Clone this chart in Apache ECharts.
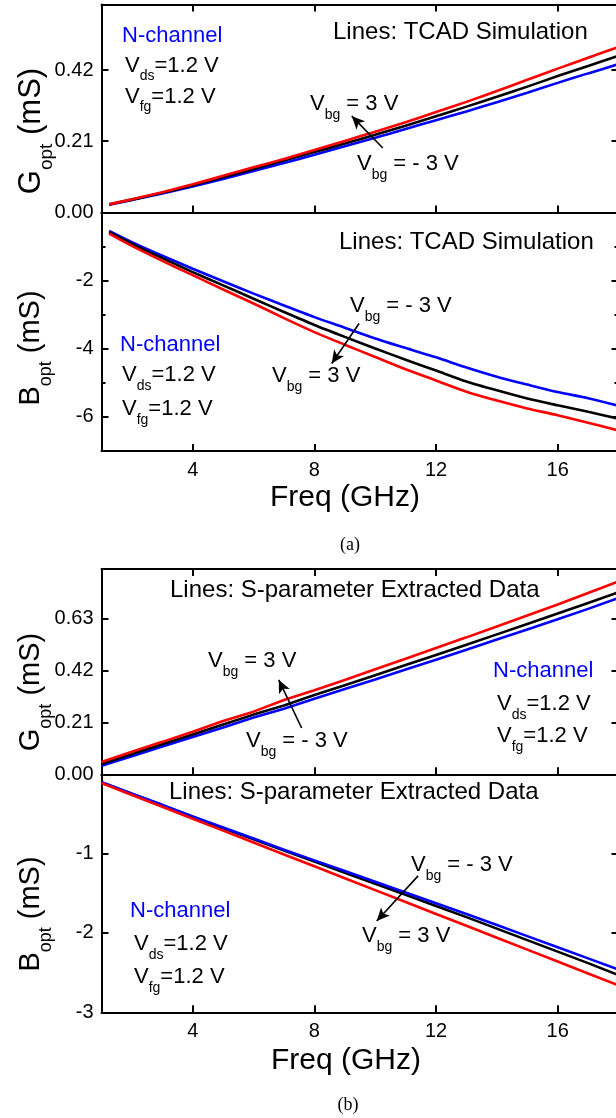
<!DOCTYPE html>
<html><head><meta charset="utf-8">
<script src="https://cdn.jsdelivr.net/npm/echarts@6/dist/echarts.min.js"></script>
<style>html,body{margin:0;padding:0;background:#fff;}#c{width:616px;height:1118px;}</style>
</head><body><div id="c"></div>
<script>
// ---------- data ----------
const freqA = [1.25,2,3,4,5,6,7,8,9,10,11,12,13,14,15,16,17,18];
const gA_m3 = [0.023,0.037,0.056,0.077,0.099,0.122,0.146,0.170,0.195,0.220,0.246,0.272,0.298,0.325,0.353,0.382,0.410,0.437];
const gA_0  = [0.024,0.038,0.058,0.080,0.104,0.128,0.153,0.178,0.203,0.229,0.256,0.284,0.312,0.341,0.371,0.402,0.432,0.462];
const gA_p3 = [0.024,0.039,0.060,0.083,0.108,0.133,0.158,0.184,0.211,0.238,0.266,0.296,0.326,0.358,0.391,0.424,0.456,0.488];
const bA_m3 = [-0.54,-0.87,-1.27,-1.65,-2.02,-2.38,-2.73,-3.07,-3.38,-3.70,-3.98,-4.25,-4.55,-4.82,-5.05,-5.27,-5.45,-5.67];
const bA_0  = [-0.58,-0.92,-1.34,-1.75,-2.14,-2.53,-2.92,-3.30,-3.65,-3.99,-4.32,-4.64,-4.96,-5.22,-5.46,-5.66,-5.85,-6.05];
const bA_p3 = [-0.62,-0.98,-1.42,-1.84,-2.26,-2.67,-3.10,-3.51,-3.88,-4.24,-4.60,-4.93,-5.26,-5.52,-5.75,-5.95,-6.17,-6.40];

const freqB = [1,2,3,4,5,6,7,8,9,10,11,12,13,14,15,16,17,18];
const gB_m3 = [0.034,0.073,0.112,0.151,0.189,0.229,0.265,0.305,0.344,0.383,0.423,0.463,0.503,0.544,0.585,0.626,0.668,0.712];
const gB_0  = [0.042,0.082,0.121,0.161,0.201,0.241,0.278,0.320,0.360,0.400,0.441,0.482,0.523,0.565,0.607,0.649,0.692,0.735];
const gB_p3 = [0.050,0.091,0.131,0.172,0.215,0.253,0.300,0.339,0.381,0.424,0.467,0.510,0.553,0.597,0.641,0.686,0.732,0.779];
const bB_m3 = [-0.10,-0.245,-0.385,-0.53,-0.67,-0.81,-0.95,-1.085,-1.22,-1.355,-1.49,-1.625,-1.76,-1.90,-2.04,-2.18,-2.32,-2.46];
const bB_0  = [-0.10,-0.245,-0.39,-0.535,-0.68,-0.82,-0.96,-1.10,-1.24,-1.38,-1.52,-1.66,-1.80,-1.945,-2.09,-2.235,-2.38,-2.53];
const bB_p3 = [-0.11,-0.26,-0.41,-0.56,-0.71,-0.86,-1.01,-1.16,-1.31,-1.46,-1.61,-1.76,-1.91,-2.06,-2.21,-2.36,-2.51,-2.66];

// tick values
const xTicks   = [4,8,12,16];
const gTicksA  = [0,0.21,0.42];
const bTicksA  = [-6,-4,-2];
const bMinorA  = [-5,-3,-1];
const gTicksB  = [0,0.21,0.42,0.63];
const bTicksB  = [-3,-2,-1];

// arrows (data coordinates: [from, to])
const arrowGA = [[10.25,0.190],[9.23,0.284]];
const arrowBA = [[9.47,-3.26],[8.57,-4.43]];
const arrowGB = [[7.58,0.187],[6.83,0.381]];
const arrowBB = [[11.41,-1.28],[10.05,-1.85]];

// ---------- layout ----------
const FF = 'Liberation Sans, Arial, Helvetica, sans-serif';
const BLUE = '#0000ff', RED = '#ff0000', BLACK = '#000000';
const L = 101.5, W = 517;
const grids = [
  {top:4.5,   height:208,   ymin:0,  ymax:0.613, ticks:gTicksA, minor:null,    fmt:v=>v.toFixed(2), xlab:false, topTicks:true},
  {top:212.5, height:238.5, ymin:-7, ymax:0,     ticks:bTicksA, minor:bMinorA, fmt:v=>String(v),    xlab:true,  topTicks:false},
  {top:569,   height:205.3, ymin:0,  ymax:0.829, ticks:gTicksB, minor:null,    fmt:v=>v.toFixed(2), xlab:false, topTicks:true},
  {top:774.3, height:238,   ymin:-3, ymax:0,     ticks:bTicksB, minor:null,    fmt:v=>String(v),    xlab:true,  topTicks:false}
];
const lineSt = {color:'#000', width:2};
const gridOpt = [], xAxes = [], yAxes = [], axisIdx = [];
grids.forEach((g,i)=>{
  gridOpt.push({left:L, top:g.top, width:W, height:g.height, containLabel:false, outerBoundsMode:'none', show:false});
  const xb = xAxes.length;
  xAxes.push({gridIndex:i, type:'value', min:1, max:18, position:'bottom',
    axisLine:{show:true, onZero:false, lineStyle:lineSt},
    axisTick:{show:true, inside:true, length:7, lineStyle:lineSt, customValues:xTicks},
    axisLabel:{show:g.xlab, customValues:xTicks, margin:9, fontSize:20, color:'#000', fontFamily:FF},
    splitLine:{show:false}});
  xAxes.push({gridIndex:i, type:'value', min:1, max:18, position:'top',
    axisLine:{show:true, onZero:false, lineStyle:lineSt},
    axisTick:{show:g.topTicks, inside:true, length:7, lineStyle:lineSt, customValues:xTicks},
    axisLabel:{show:false}, splitLine:{show:false}});
  const yl = yAxes.length;
  yAxes.push({gridIndex:i, type:'value', min:g.ymin, max:g.ymax, position:'left',
    axisLine:{show:true, onZero:false, lineStyle:lineSt},
    axisTick:{show:true, inside:true, length:7, lineStyle:lineSt, customValues:g.ticks},
    axisLabel:{show:true, customValues:g.ticks, formatter:g.fmt, margin:8, fontSize:20, color:'#000', fontFamily:FF},
    splitLine:{show:false}});
  yAxes.push({gridIndex:i, type:'value', min:g.ymin, max:g.ymax, position:'right',
    axisLine:{show:true, onZero:false, lineStyle:lineSt},
    axisTick:{show:true, inside:true, length:7, lineStyle:lineSt, customValues:g.ticks},
    axisLabel:{show:false}, splitLine:{show:false}});
  if (g.minor) {
    ['left','right'].forEach(p=>yAxes.push({gridIndex:i, type:'value', min:g.ymin, max:g.ymax, position:p, offset:0,
      axisLine:{show:false}, axisTick:{show:true, inside:true, length:4, lineStyle:lineSt, customValues:g.minor},
      axisLabel:{show:false}, splitLine:{show:false}}));
  }
  axisIdx.push({x:xb, y:yl});
});

function mk(xs, ys){ return xs.map((x,k)=>[x, ys[k]]); }
function ser(gi, xs, ys, color, smooth, arrow){
  const s = {type:'line', xAxisIndex:axisIdx[gi].x, yAxisIndex:axisIdx[gi].y, data:mk(xs,ys),
    showSymbol:false, symbol:'none', smooth:smooth, clip:true, silent:true,
    lineStyle:{color:color, width:2.6}, itemStyle:{color:color}, z:2};
  if (arrow) {
    s.markLine = {silent:true, symbol:['none','arrow'], symbolSize:[9,13], animation:false,
      lineStyle:{color:'#000', width:1.6, type:'solid'}, label:{show:false},
      data:[[{coord:arrow[0]},{coord:arrow[1]}]]};
  }
  return s;
}
const series = [
  ser(0,freqA,gA_m3,BLUE,0.25), ser(0,freqA,gA_0,BLACK,0.25,arrowGA), ser(0,freqA,gA_p3,RED,0.25),
  ser(1,freqA,bA_m3,BLUE,0.25), ser(1,freqA,bA_0,BLACK,0.25,arrowBA), ser(1,freqA,bA_p3,RED,0.25),
  ser(2,freqB,gB_m3,BLUE,0),   ser(2,freqB,gB_0,BLACK,0,arrowGB),   ser(2,freqB,gB_p3,RED,0),
  ser(3,freqB,bB_0,BLACK,0,arrowBB), ser(3,freqB,bB_m3,BLUE,0),   ser(3,freqB,bB_p3,RED,0)
];

// ---------- text annotations ----------
const rich = {
  m:{fontSize:22, fontFamily:FF, fill:'#000', lineHeight:24, verticalAlign:'top'},
  s:{fontSize:14, fontFamily:FF, fill:'#000', lineHeight:16, padding:[15,0,0,0], verticalAlign:'top'},
  b:{fontSize:22, fontFamily:FF, fill:BLUE, lineHeight:24, verticalAlign:'top'},
  t:{fontSize:24, fontFamily:FF, fill:'#000', lineHeight:24, verticalAlign:'top'}
};
function T(x, yc, text){
  return {type:'text', x:x, y:yc, silent:true, z:100,
    style:{text:text, rich:rich, x:0, y:-12, align:'left', verticalAlign:'top'}};
}
function titleRich(fs){
  return {
    M:{fontSize:fs, fontFamily:FF, fill:'#000', lineHeight:30, verticalAlign:'top'},
    S:{fontSize:Math.round(fs*0.62), fontFamily:FF, fill:'#000', lineHeight:18, padding:[21,0,0,0], verticalAlign:'top'}
  };
}
function YT(x, yc, text, fs){
  return {type:'text', x:x, y:yc, rotation:Math.PI/2, silent:true, z:100,
    style:{text:text, rich:titleRich(fs), x:0, y:-15, align:'center', verticalAlign:'top'}};
}
function XT(x, yc, text){
  return {type:'text', x:x, y:yc, silent:true, z:100,
    style:{text:text, fontSize:30, fontFamily:FF, fill:'#000', align:'center', verticalAlign:'middle'}};
}
function CAP(x, yc, text){
  return {type:'text', x:x, y:yc, silent:true, z:100,
    style:{text:text, fontSize:18, fontFamily:'Liberation Serif, Times New Roman, serif', fill:'#000', align:'center', verticalAlign:'middle'}};
}
const vds = '{m|V}{s|ds}{m|=1.2 V}', vfg = '{m|V}{s|fg}{m|=1.2 V}';
const vp3 = '{m|V}{s|bg}{m| = 3 V}', vm3 = '{m|V}{s|bg}{m| = - 3 V}';
const nch = '{b|N-channel}';
const graphic = [
  // panel (a) top
  T(122,37,nch), T(125,66.5,vds), T(125,97.5,vfg),
  T(333,32,'{t|Lines: TCAD Simulation}'), T(310,105,vp3), T(357,165,vm3),
  // panel (a) bottom
  T(339,242,'{t|Lines: TCAD Simulation}'), T(350,307,vm3), T(272,377,vp3),
  T(120,346,nch), T(122,376,vds), T(122,410,vfg),
  // panel (b) top
  T(170,590,'{t|Lines: S-parameter Extracted Data}'), T(208,662,vp3), T(246,742,vm3),
  T(493,672,nch), T(497,705,vds), T(497,737,vfg),
  // panel (b) bottom
  T(169,792,'{t|Lines: S-parameter Extracted Data}'), T(411,866,vm3), T(362,937,vp3),
  T(130,912,nch), T(134,945,vds), T(134,978,vfg),
  // axis titles
  YT(31,131,'{M|G}{S|opt}{M| (mS)}',31), YT(31,348,'{M|B}{S|opt}{M| (mS)}',29),
  YT(31,692,'{M|G}{S|opt}{M| (mS)}',29), YT(31,914,'{M|B}{S|opt}{M| (mS)}',29),
  XT(345,498,'Freq (GHz)'), XT(346,1061,'Freq (GHz)'),
  CAP(350,545,'(a)'), CAP(348,1105,'(b)')
];

const chart = echarts.init(document.getElementById('c'), null, {renderer:'canvas'});
chart.setOption({
  animation:false, backgroundColor:'#fff',
  grid:gridOpt, xAxis:xAxes, yAxis:yAxes, series:series, graphic:graphic
});
</script></body></html>
